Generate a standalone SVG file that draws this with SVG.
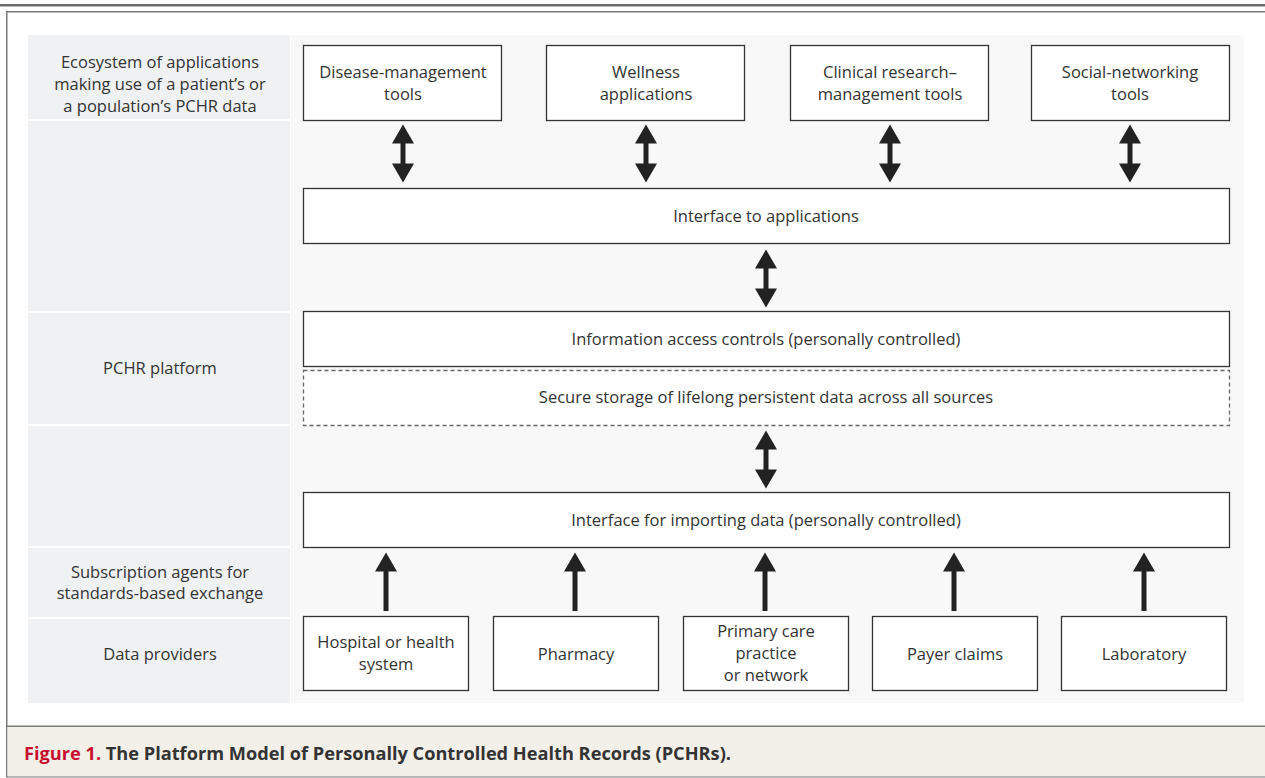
<svg xmlns="http://www.w3.org/2000/svg" width="1265" height="778" viewBox="0 0 1265 778">
<defs>
<style>
.lbl{font-family:"Open Sans","Noto Sans",sans-serif;font-size:16.5px;fill:#333;text-anchor:middle}
.box{fill:#fff;stroke:#333;stroke-width:1.3}
.dash{fill:#fff;stroke:#666;stroke-width:1.3;stroke-dasharray:4 3}
.band{fill:#f0f1f3}
.arr{stroke:#222;stroke-width:5}
.cap{font-family:"Open Sans","Noto Sans",sans-serif;font-size:18.2px;font-weight:bold;fill:#333}
</style>
<marker id="ah" markerUnits="userSpaceOnUse" markerWidth="20" markerHeight="22" viewBox="0 0 19 22" refX="0.5" refY="11" orient="auto-start-reverse">
<path d="M0,0 L19,11 L0,22 z" fill="#222"/>
</marker>
</defs>
<rect x="0" y="0" width="1265" height="778" fill="#fff"/>
<rect x="0" y="4" width="1265" height="2.5" fill="#6a6a6a"/>
<rect x="6.75" y="11.75" width="1270" height="765" fill="none" stroke="#7a7a7a" stroke-width="1.5"/>
<rect x="7.5" y="727" width="1258" height="49.5" fill="#f3f0e9"/>
<line x1="6.75" y1="726.25" x2="1265" y2="726.25" stroke="#7a7a7a" stroke-width="1.5"/>
<g id="caption">
<text x="24" y="760" class="cap"><tspan fill="#c8102e">Figure 1.</tspan> The Platform Model of Personally Controlled Health Records (PCHRs).</text>
</g>
<rect x="291" y="35" width="953" height="668" fill="#f8f8f8"/>
<g id="bands">
<rect class="band" x="28" y="35" width="262" height="84"/>
<rect class="band" x="28" y="121" width="262" height="190"/>
<rect class="band" x="28" y="313" width="262" height="111"/>
<rect class="band" x="28" y="426" width="262" height="120"/>
<rect class="band" x="28" y="548" width="262" height="69"/>
<rect class="band" x="28" y="619" width="262" height="84"/>
</g>
<g id="row-labels">
<text class="lbl" x="160" y="68">Ecosystem of applications</text>
<text class="lbl" x="160" y="90">making use of a patient’s or</text>
<text class="lbl" x="160" y="112">a population’s PCHR data</text>
<text class="lbl" x="160" y="374">PCHR platform</text>
<text class="lbl" x="160" y="578">Subscription agents for</text>
<text class="lbl" x="160" y="599">standards-based exchange</text>
<text class="lbl" x="160" y="660">Data providers</text>
</g>
<g id="disease">
<rect class="box" x="303.5" y="45.5" width="198" height="75"/>
<text class="lbl" x="403" y="78">Disease-management</text>
<text class="lbl" x="403" y="100">tools</text>
</g>
<g id="wellness">
<rect class="box" x="546.5" y="45.5" width="198" height="75"/>
<text class="lbl" x="646" y="78">Wellness</text>
<text class="lbl" x="646" y="100">applications</text>
</g>
<g id="clinical">
<rect class="box" x="790.5" y="45.5" width="198" height="75"/>
<text class="lbl" x="890" y="78">Clinical research–</text>
<text class="lbl" x="890" y="100">management tools</text>
</g>
<g id="social">
<rect class="box" x="1031.5" y="45.5" width="198" height="75"/>
<text class="lbl" x="1130" y="78">Social-networking</text>
<text class="lbl" x="1130" y="100">tools</text>
</g>
<g id="iface-apps">
<rect class="box" x="303.5" y="188.5" width="926" height="55"/>
<text class="lbl" x="766" y="222">Interface to applications</text>
</g>
<g id="access">
<rect class="box" x="303.5" y="311.5" width="926" height="55"/>
<text class="lbl" x="766" y="345">Information access controls (personally controlled)</text>
</g>
<g id="storage">
<rect class="dash" x="303.5" y="370.5" width="926" height="55"/>
<text class="lbl" x="766" y="403">Secure storage of lifelong persistent data across all sources</text>
</g>
<g id="iface-import">
<rect class="box" x="303.5" y="492.5" width="926" height="55"/>
<text class="lbl" x="766" y="526">Interface for importing data (personally controlled)</text>
</g>
<g id="hospital">
<rect class="box" x="303.5" y="616.5" width="165" height="74"/>
<text class="lbl" x="386" y="648">Hospital or health</text>
<text class="lbl" x="386" y="670">system</text>
</g>
<g id="pharmacy">
<rect class="box" x="493.5" y="616.5" width="165" height="74"/>
<text class="lbl" x="576" y="660">Pharmacy</text>
</g>
<g id="primary">
<rect class="box" x="683.5" y="616.5" width="165" height="74"/>
<text class="lbl" x="766" y="637">Primary care</text>
<text class="lbl" x="766" y="659">practice</text>
<text class="lbl" x="766" y="681">or network</text>
</g>
<g id="payer">
<rect class="box" x="872.5" y="616.5" width="165" height="74"/>
<text class="lbl" x="955" y="660">Payer claims</text>
</g>
<g id="lab">
<rect class="box" x="1061.5" y="616.5" width="165" height="74"/>
<text class="lbl" x="1144" y="660">Laboratory</text>
</g>
<g id="connectors">
<line class="arr" x1="403" y1="143" x2="403" y2="164" marker-start="url(#ah)" marker-end="url(#ah)"/>
<line class="arr" x1="646" y1="143" x2="646" y2="164" marker-start="url(#ah)" marker-end="url(#ah)"/>
<line class="arr" x1="890" y1="143" x2="890" y2="164" marker-start="url(#ah)" marker-end="url(#ah)"/>
<line class="arr" x1="1130" y1="143" x2="1130" y2="164" marker-start="url(#ah)" marker-end="url(#ah)"/>
<line class="arr" x1="766" y1="268" x2="766" y2="289" marker-start="url(#ah)" marker-end="url(#ah)"/>
<line class="arr" x1="766" y1="449" x2="766" y2="470" marker-start="url(#ah)" marker-end="url(#ah)"/>
<line class="arr" x1="386" y1="611" x2="386" y2="571" marker-end="url(#ah)"/>
<line class="arr" x1="575" y1="611" x2="575" y2="571" marker-end="url(#ah)"/>
<line class="arr" x1="765" y1="611" x2="765" y2="571" marker-end="url(#ah)"/>
<line class="arr" x1="954" y1="611" x2="954" y2="571" marker-end="url(#ah)"/>
<line class="arr" x1="1144" y1="611" x2="1144" y2="571" marker-end="url(#ah)"/>
</g>
</svg>
